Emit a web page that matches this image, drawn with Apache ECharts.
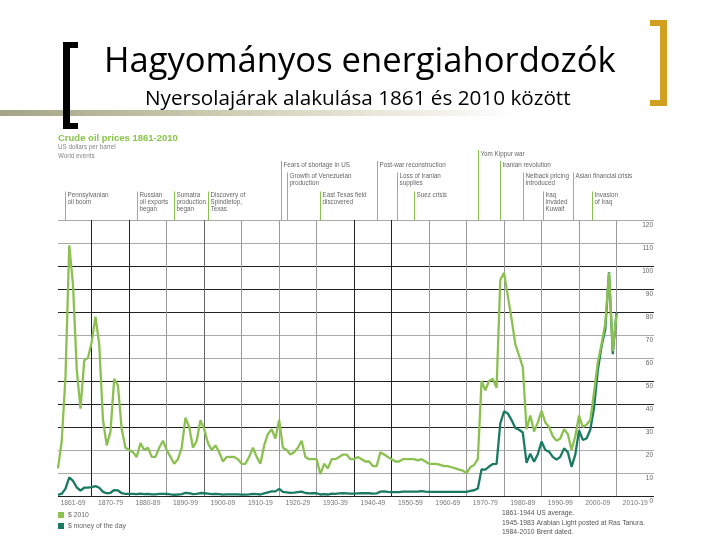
<!DOCTYPE html>
<html><head><meta charset="utf-8">
<script src="https://cdn.jsdelivr.net/npm/echarts@6/dist/echarts.min.js"></script>
<style>html,body{margin:0;padding:0;background:#fff}#c{width:720px;height:540px}</style>
</head><body><div id="c"></div>
<script>
// ---- data ----
const firstYear = 1861, lastAxisYear = 2020;
const years = [];
for (let y = firstYear; y <= lastAxisYear; y++) years.push(String(y));

// $ 2010 (real) 1861-2010
const real2010 = [
  12, 24, 52, 109, 92, 55, 38, 59, 60, 67,
  78, 66, 33, 22, 28, 51, 48, 29, 21, 20,
  19, 17, 23, 20, 21, 17, 17, 21, 24, 20,
  17, 14, 16, 21, 34, 30, 21, 24, 33, 29,
  23, 20, 22, 19, 15, 17, 17, 17, 16, 14,
  14, 17, 21, 17, 14, 22, 27, 29, 25, 33,
  21, 20, 18, 19, 21, 24, 17, 16, 16, 16,
  9.5, 14, 12, 16, 16, 17, 18, 18, 16, 16,
  17, 16, 15, 15, 13, 13, 19, 18, 17, 16,
  15, 15, 16, 16, 16, 16, 15.5, 16, 15, 14,
  14, 14, 13.5, 13, 13, 12.5, 12, 11.5, 11, 10,
  12.5, 13.5, 16, 50, 46, 50, 51, 47, 94, 97,
  87, 77, 66, 61, 56, 29, 35, 28, 32, 37,
  32, 30, 26, 24, 25, 29, 27, 20, 26, 35,
  30, 31, 33, 45, 58, 66, 75, 97, 63, 79
];
// $ money of the day 1861-2010
const nominal = [
  0.5, 1.0, 3.2, 8.1, 6.6, 3.7, 2.4, 3.6, 3.6, 3.9,
  4.3, 3.6, 1.8, 1.2, 1.4, 2.6, 2.4, 1.2, 0.9, 0.95,
  0.9, 0.8, 1.0, 0.85, 0.9, 0.7, 0.7, 0.9, 0.95, 0.9,
  0.7, 0.55, 0.65, 0.85, 1.35, 1.2, 0.8, 0.9, 1.3, 1.2,
  1.0, 0.8, 0.95, 0.85, 0.6, 0.75, 0.7, 0.7, 0.7, 0.6,
  0.6, 0.75, 0.95, 0.8, 0.65, 1.1, 1.55, 2.0, 2.0, 3.1,
  1.75, 1.6, 1.35, 1.45, 1.7, 1.9, 1.3, 1.15, 1.25, 1.2,
  0.65, 0.85, 0.65, 1.0, 0.95, 1.1, 1.2, 1.15, 1.0, 1.0,
  1.15, 1.2, 1.2, 1.2, 1.05, 1.1, 1.9, 2.0, 1.8, 1.7,
  1.7, 1.7, 1.9, 1.9, 1.9, 1.9, 1.9, 2.1, 1.9, 1.8,
  1.8, 1.8, 1.8, 1.8, 1.8, 1.8, 1.8, 1.8, 1.8, 1.8,
  2.2, 2.5, 3.3, 11.6, 11.5, 12.8, 13.9, 14.0, 31.6, 36.8,
  35.9, 33.0, 29.6, 28.8, 27.6, 14.4, 18.4, 14.9, 18.2, 23.7,
  20.0, 19.3, 17.0, 15.8, 17.0, 20.7, 19.1, 12.7, 18.0, 28.5,
  24.4, 25.0, 28.8, 38.3, 54.5, 65.1, 72.4, 97.3, 61.7, 79.5
];

const decadeLabels = ['1861-69','1870-79','1880-89','1890-99','1900-09','1910-19','1920-29','1930-39',
  '1940-49','1950-59','1960-69','1970-79','1980-89','1990-99','2000-09','2010-19'];

const seriesNames = ['$ 2010', '$ money of the day'];
const notes = ['1861-1944 US average.', '1945-1983 Arabian Light posted at Ras Tanura.', '1984-2010 Brent dated.'];

// world events: year, row, text lines
const events = [
  { year: 1863,   row: 3, lines: ['Pennsylvanian', 'oil boom'] },
  { year: 1882,   row: 3, lines: ['Russian', 'oil exports', 'began'] },
  { year: 1892,   row: 3, lines: ['Sumatra', 'production', 'began'] },
  { year: 1901,   row: 3, lines: ['Discovery of', 'Spindletop,', 'Texas'] },
  { year: 1920.5, row: 1, lines: ['Fears of shortage in US'] },
  { year: 1922,   row: 2, lines: ['Growth of Venezuelan', 'production'] },
  { year: 1931,   row: 3, lines: ['East Texas field', 'discovered'] },
  { year: 1946,   row: 1, lines: ['Post-war reconstruction'] },
  { year: 1951.5, row: 2, lines: ['Loss of Iranian', 'supplies'] },
  { year: 1956,   row: 3, lines: ['Suez crisis'] },
  { year: 1973,   row: 0, lines: ['Yom Kippur war'] },
  { year: 1979,   row: 1, lines: ['Iranian revolution'] },
  { year: 1985,   row: 2, lines: ['Netback pricing', 'introduced'] },
  { year: 1990.5, row: 3, lines: ['Iraq', 'invaded', 'Kuwait'] },
  { year: 1998.5, row: 2, lines: ['Asian financial crisis'] },
  { year: 2003.5, row: 3, lines: ['Invasion', 'of Iraq'] }
];

// ---- styles ----
const GREEN = '#8cc152', TEAL = '#1b7a62';
const hColors = ['#222','#aaa','#aaa','#222','#222','#222','#aaa','#aaa','#222','#222','#222','#aaa','#aaa'];
const vColors = ['#222','#222','#999','#666','#999','#999','#999','#222','#222','#999','#999','#999','#999','#999','#999'];

const chart = echarts.init(document.getElementById('c'), null, { renderer: 'canvas' });
const option = {
  animation: false,
  backgroundColor: '#fff',
  grid: { left: 58, right: 66, top: 220, bottom: 44, containLabel: false },
  xAxis: {
    type: 'category', data: years, boundaryGap: false,
    axisLine: { show: false }, axisTick: { show: false },
    axisLabel: {
      interval: (i, v) => Number(v) % 10 === 5,
      formatter: v => decadeLabels[Math.floor((Number(v) - 1860) / 10)],
      fontSize: 6.8, color: '#777', margin: 4, fontFamily: 'Liberation Sans'
    },
    splitLine: {
      show: true,
      interval: (i, v) => Number(v) % 10 === 0 && Number(v) < lastAxisYear,
      lineStyle: { color: vColors, width: 1 }
    }
  },
  yAxis: {
    type: 'value', position: 'right', min: 0, max: 120, interval: 10,
    axisLine: { show: false }, axisTick: { show: false },
    axisLabel: { inside: true, fontSize: 6.5, color: '#666', margin: 1, verticalAlign: 'top',
      padding: [2, 0, 0, 0], fontFamily: 'Liberation Sans' },
    splitLine: { show: true, lineStyle: { color: hColors, width: 1 } }
  },
  series: [
    { name: seriesNames[1], type: 'line', data: nominal, symbol: 'none',
      lineStyle: { color: TEAL, width: 2.3 }, itemStyle: { color: TEAL } },
    { name: seriesNames[0], type: 'line', data: real2010, symbol: 'none',
      lineStyle: { color: GREEN, width: 2.3 }, itemStyle: { color: GREEN } }
  ]
};
chart.setOption(option);

// ---- decorations / texts ----
const p0 = chart.convertToPixel({ xAxisIndex: 0 }, 0);
const p1 = chart.convertToPixel({ xAxisIndex: 0 }, 1);
const step = p1 - p0;
const yearX = y => p0 + (y - firstYear) * step;
const plotTop = chart.convertToPixel({ yAxisIndex: 0 }, 120);

const rowY = [154, 165, 176.5, 195.5];
const smallFont = "6.3px 'Liberation Sans'";
const g = [];

// title block
g.push({ type: 'rect', shape: { x: 0, y: 110, width: 520, height: 6 }, silent: true,
  style: { fill: new echarts.graphic.LinearGradient(0, 0, 1, 0, [
    { offset: 0, color: '#a4a486' }, { offset: 0.45, color: '#cfcfb6' }, { offset: 1, color: '#ffffff' }]) } });
g.push({ type: 'rect', shape: { x: 63, y: 42, width: 7, height: 87 }, style: { fill: '#000' } });
g.push({ type: 'rect', shape: { x: 63, y: 42, width: 15, height: 6 }, style: { fill: '#000' } });
g.push({ type: 'rect', shape: { x: 63, y: 123, width: 15, height: 6 }, style: { fill: '#000' } });
g.push({ type: 'rect', shape: { x: 660, y: 20, width: 7, height: 86 }, style: { fill: '#d2a020' } });
g.push({ type: 'rect', shape: { x: 650, y: 20, width: 17, height: 6 }, style: { fill: '#d2a020' } });
g.push({ type: 'rect', shape: { x: 650, y: 100, width: 17, height: 6 }, style: { fill: '#d2a020' } });
g.push({ type: 'text', style: { text: 'Hagyományos energiahordozók', x: 104, y: 62,
  font: "34.6px 'Open Sans'", fill: '#000', verticalAlign: 'middle' } });
g.push({ type: 'text', style: { text: 'Nyersolajárak alakulása 1861 és 2010 között', x: 145, y: 99,
  font: "20.7px 'Open Sans'", fill: '#000', verticalAlign: 'middle' } });

// chart header
g.push({ type: 'text', style: { text: 'Crude oil prices 1861-2010', x: 58, y: 138.5,
  font: "bold 9.5px 'Liberation Sans'", fill: '#8ac44c', verticalAlign: 'middle' } });
g.push({ type: 'text', style: { text: 'US dollars per barrel', x: 58, y: 147.5,
  font: smallFont, fill: '#888', verticalAlign: 'middle' } });
g.push({ type: 'text', style: { text: 'World events', x: 58, y: 156.5,
  font: smallFont, fill: '#888', verticalAlign: 'middle' } });

// events
events.forEach(ev => {
  const x = Math.round(yearX(ev.year));
  const ty = rowY[ev.row];
  g.push({ type: 'rect', shape: { x: x, y: ty - 4, width: 1, height: plotTop - ty + 4 },
    style: { fill: '#8cc152' } });
  g.push({ type: 'text', style: { text: ev.lines.join('\n'), x: x + 2.5, y: ty - 3.5,
    font: smallFont, lineHeight: 7, fill: '#666', verticalAlign: 'top' } });
});

// legend
[GREEN, TEAL].forEach((c, i) => {
  g.push({ type: 'rect', shape: { x: 58, y: 512 + i * 11, width: 6, height: 6 }, style: { fill: c } });
  g.push({ type: 'text', style: { text: seriesNames[i], x: 68, y: 515 + i * 11,
    font: "6.8px 'Liberation Sans'", fill: '#666', verticalAlign: 'middle' } });
});
// notes
notes.forEach((t, i) => {
  g.push({ type: 'text', style: { text: t, x: 502, y: 513 + i * 9.8,
    font: "6.8px 'Liberation Sans'", fill: '#555', verticalAlign: 'middle' } });
});

chart.setOption({ graphic: g });
</script>
</body></html>
